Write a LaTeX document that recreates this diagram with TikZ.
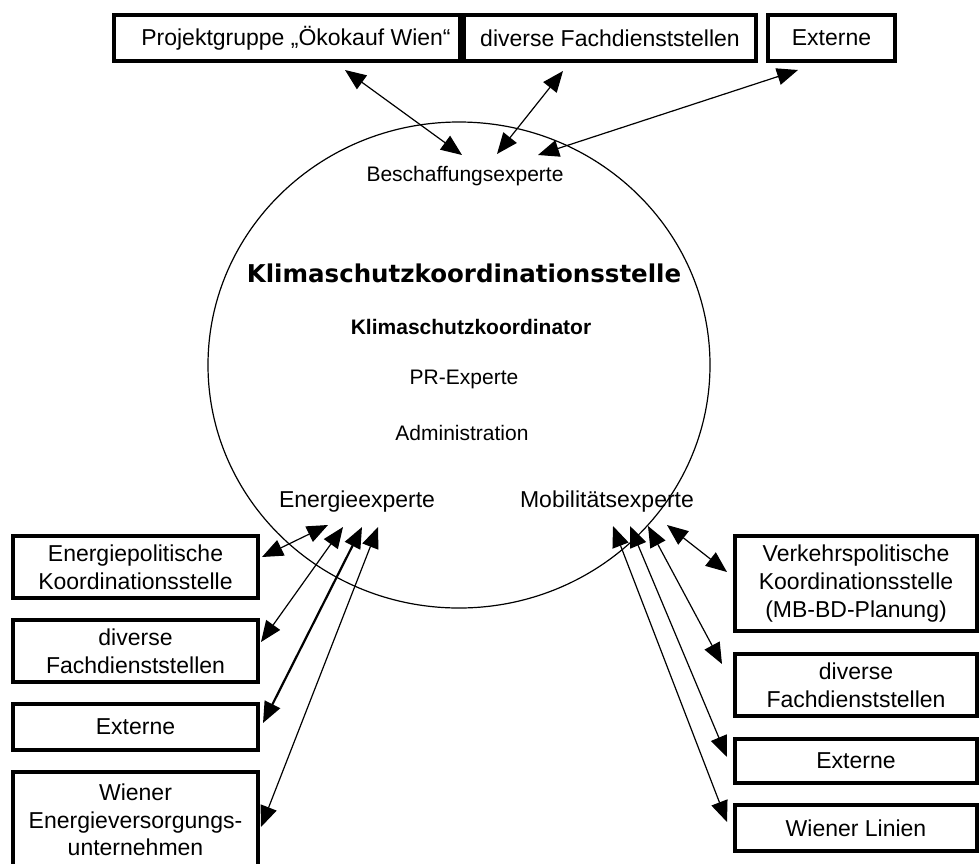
\documentclass[tikz,border=0pt]{standalone}
\usepackage{fontspec}
\setmainfont{Liberation Sans}
\newfontfamily\titlefont{DejaVu Sans}
\usepackage {tikz}
\usetikzlibrary {positioning}
\usetikzlibrary{shapes.geometric}
\usetikzlibrary{arrows.meta}
\usetikzlibrary{calc}

\begin{document}
\begin{tikzpicture}[x=1pt, y=-1pt, node distance=22pt,
	box/.style={draw, line width=3.5pt, outer sep=0pt, inner sep=0pt, align=center,
		font=\fontsize{23}{27.6}\selectfont},
	role/.style={font=\fontsize{21}{25}\selectfont},
	expert/.style={font=\fontsize{23}{27.6}\selectfont},
	link/.style={<->, >={Triangle[length=21pt,width=17pt]}, line width=1.2pt}
	]
	\useasboundingbox (0,0) rectangle (979,863);

	% partners on top
	\node[box, anchor=north west, minimum width=346pt, minimum height=46pt] (proj) at (114,15) {\hspace*{18pt}Projektgruppe „Ökokauf Wien“};
	\node[box, minimum width=292pt, minimum height=46pt, right=4pt of proj] (fach) {diverse Fachdienststellen};
	\node[box, minimum width=127pt, minimum height=46pt, right=12pt of fach] (ext) {Externe};

	% the office
	\node[draw, ellipse, line width=1.2pt, minimum width=502pt, minimum height=486pt, inner sep=0pt] (kss) at (459,365) {};
	\node[role] (besch) at (465,176) {Beschaffungsexperte};
	\node[font=\titlefont\bfseries\fontsize{24.5}{29}\selectfont] (title) at (464,273) {Klimaschutzkoordinationsstelle};
	\node[font=\bfseries\fontsize{21}{25}\selectfont] (koord) at (471,327) {Klimaschutzkoordinator};
	\node[role] (pr) at (464,379) {PR-Experte};
	\node[role] (admin) at (462,433) {Administration};
	\node[expert] (energie) at (357,502) {Energieexperte};
	\node[expert] (mobil) at (607,502) {Mobilitätsexperte};

	% partners left
	\node[box, anchor=north west, minimum width=245pt, minimum height=62pt] (epol) at (13,536) {Energiepolitische\\Koordinationsstelle};
	\node[box, minimum width=245pt, minimum height=62pt, below=of epol] (efach) {diverse\\Fachdienststellen};
	\node[box, minimum width=245pt, minimum height=46pt, below=of efach] (eext) {Externe};
	\node[box, minimum width=245pt, minimum height=96pt, below=of eext] (ewien) {Wiener\\Energieversorgungs-\\unternehmen};

	% partners right
	\node[box, anchor=north west, minimum width=242pt, minimum height=95pt] (vpol) at (735,536) {Verkehrspolitische\\Koordinationsstelle\\(MB-BD-Planung)};
	\node[box, minimum width=242pt, minimum height=62pt, below=23pt of vpol] (vfach) {diverse\\Fachdienststellen};
	\node[box, minimum width=242pt, minimum height=44pt, below=23pt of vfach] (vext) {Externe};
	\node[box, minimum width=242pt, minimum height=46pt, below=22pt of vext] (vlin) {Wiener Linien};

	% arrow ends inside the ellipse
	\coordinate (b1) at (462,155);
	\coordinate (b2) at (497,154);
	\coordinate (b3) at (538,155);
	\coordinate (e1) at (328,525);
	\coordinate (e2) at (343,527);
	\coordinate (e3) at (362,527);
	\coordinate (e4) at (378,527);
	\coordinate (m1) at (667,525);
	\coordinate (m2) at (648,526);
	\coordinate (m3) at (630,526);
	\coordinate (m4) at (613,526);

	\draw[link] ($(proj.south)+(58,9)$) -- (b1);
	\draw[link] ($(fach.south)+(-47,10)$) -- (b2);
	\draw[link] ($(ext.south)+(-33.5,9)$) -- (b3);

	\draw[link] ($(epol.north east)+(4,21)$) -- (e1);
	\draw[link] ($(efach.north east)+(3,22)$) -- (e2);
	\draw[link, line width=2.2pt] ($(eext.north east)+(5,19)$) -- (e3);
	\draw[link] ($(ewien.north east)+(3,55)$) -- (e4);

	\draw[link] ($(vpol.north west)+(-8,36)$) -- (m1);
	\draw[link] ($(vfach.north west)+(-13,10)$) -- (m2);
	\draw[link] ($(vext.north west)+(-8,18)$) -- (m3);
	\draw[link] ($(vlin.north west)+(-8,17)$) -- (m4);
\end{tikzpicture}
\end{document}
